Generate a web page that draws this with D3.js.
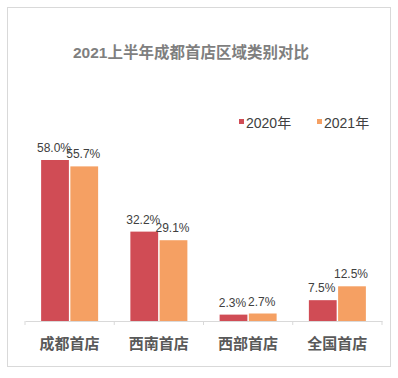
<!DOCTYPE html>
<html lang="zh">
<head>
<meta charset="utf-8">
<title>2021上半年成都首店区域类别对比</title>
<script src="https://d3js.org/d3.v7.min.js"></script>
<style>
  html, body { margin: 0; padding: 0; background: #fff; }
  body { font-family: Arial, "Liberation Sans", "Noto Sans CJK SC", sans-serif; }
</style>
</head>
<body>
<script>
const categories = ["成都首店", "西南首店", "西部首店", "全国首店"];
const seriesNames = ["2020年", "2021年"];
const values2020 = [58.0, 32.2, 2.3, 7.5];
const values2021 = [55.7, 29.1, 2.7, 12.5];
const colors = ["#D04C55", "#F5A063"];

const W = 398, H = 378;
const svg = d3.select("body").append("svg").attr("width", W).attr("height", H);

// outer frame
svg.append("rect").attr("x", 7.5).attr("y", 7.5).attr("width", 383).attr("height", 359)
  .attr("fill", "#fff").attr("stroke", "#d9d9d9");

svg.append("text").attr("x", 191).attr("y", 58).attr("text-anchor", "middle")
  .attr("font-size", 15.5).attr("font-weight", "bold").attr("fill", "#7f7f7f")
  .text("2021上半年成都首店区域类别对比");

// legend
const legend = svg.selectAll("g.leg").data(seriesNames).enter().append("g")
  .attr("transform", (d, i) => `translate(${239 + i * 78},123)`);
legend.append("rect").attr("x", 0).attr("y", -4).attr("width", 5).attr("height", 5)
  .attr("fill", (d, i) => colors[i]);
legend.append("text").attr("x", 7).attr("y", 1).attr("dominant-baseline", "middle")
  .attr("font-size", 14).attr("fill", "#404040").text(d => d);

const x0 = d3.scaleBand().domain(categories).range([25, 382]);
const x1 = d3.scaleBand().domain(seriesNames).range([0, 57]).paddingInner(0.05);
const y = d3.scaleLinear().domain([0, 58]).range([321, 160]);

const groups = svg.selectAll("g.cat").data(categories).enter().append("g")
  .attr("transform", d => `translate(${x0(d) + (x0.bandwidth() - 57) / 2},0)`);

const rows = (c, i) => [values2020[i], values2021[i]].map((v, k) => ({ s: seriesNames[k], v, k }));

groups.selectAll("rect").data(rows).enter().append("rect")
  .attr("x", d => x1(d.s)).attr("width", x1.bandwidth())
  .attr("y", d => y(d.v)).attr("height", d => y(0) - y(d.v))
  .attr("fill", d => colors[d.k]);

groups.selectAll("text.val").data(rows).enter().append("text")
  .attr("class", "val")
  .attr("x", d => x1(d.s) + x1.bandwidth() / 2 - 1)
  .attr("y", d => y(d.v) - 8)
  .attr("text-anchor", "middle").attr("font-size", 12).attr("fill", "#404040")
  .text(d => d.v.toFixed(1) + "%");

// axis
const axis = svg.append("g").attr("transform", "translate(0,321)")
  .call(d3.axisBottom(x0).tickSize(0).tickFormat(""));
axis.select(".domain").attr("stroke", "#d9d9d9");
axis.selectAll(".bd").data(d3.range(categories.length + 1)).enter().append("line")
  .attr("x1", i => 25 + i * x0.bandwidth()).attr("x2", i => 25 + i * x0.bandwidth())
  .attr("y1", 0).attr("y2", 4).attr("stroke", "#d9d9d9");

svg.selectAll("text.cat").data(categories).enter().append("text")
  .attr("x", d => x0(d) + x0.bandwidth() / 2).attr("y", 349)
  .attr("text-anchor", "middle").attr("font-size", 15).attr("font-weight", "bold")
  .attr("fill", "#595959").text(d => d);
</script>
</body>
</html>
